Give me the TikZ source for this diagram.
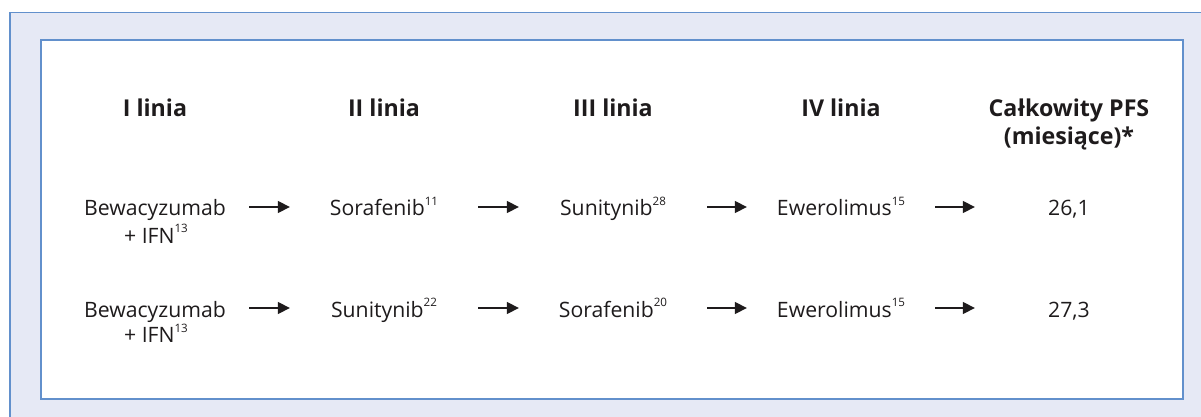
\documentclass[tikz,border=0pt]{standalone}
\usepackage{fontspec}
\setmainfont{Open Sans}
\usetikzlibrary{arrows.meta}
\definecolor{band}{RGB}{230,233,245}
\definecolor{frame}{RGB}{98,144,204}
\definecolor{ink}{RGB}{30,27,28}
\newcommand\refsup[1]{\raisebox{0.95ex}{\fontsize{5.8}{6}\selectfont #1}}
\begin{document}
\begin{tikzpicture}[x=0.5pt,y=-0.5pt,
  cell/.style={anchor=base, inner sep=0pt, text=ink, font=\fontsize{10.6}{12}\selectfont,
    minimum width=73.75pt, text height=10pt, text depth=1pt},
  note/.style={anchor=base, inner sep=0pt, text=ink, font=\fontsize{10.6}{12}\selectfont},
  head/.style={anchor=base, inner sep=0pt, text=ink, font=\fontsize{11.6}{12}\selectfont\bfseries},
  flow/.style={-{Triangle[length=6pt,width=6pt]}, line width=0.65pt, draw=ink,
    shorten <=10pt, shorten >=10pt}]
\useasboundingbox (0,0) rectangle (1201,417);
\clip (0,0) rectangle (1201,417);
\fill[white] (0,0) rectangle (1201,417);
\filldraw[fill=band, draw=frame, line width=0.7pt] (10,12.5) rectangle (1240,450);
\filldraw[fill=white, draw=frame, line width=1pt] (41,40) rectangle (1183,399);

% headers
\node[head] (h1) at (155,117) {I linia};
\node[head] (h2) at (384,117) {II linia};
\node[head] (h3) at (613,117) {III linia};
\node[head] (h4) at (841,117) {IV linia};
\node[head] (h5) at (1069,117) {Całkowity PFS};
\node[head] (h5b) at (1069,145) {(miesiące)*};

% row 1
\node[cell] (a1) at (155,216) {Bewacyzumab};
\node[note] (a1b) at (156,243) {+ IFN\refsup{13}};
\node[cell] (a2) at (384,216) {Sorafenib\refsup{11}};
\node[cell] (a3) at (613,216) {Sunitynib\refsup{28}};
\node[cell] (a4) at (841,216) {Ewerolimus\refsup{15}};
\node[cell] (a5) at (1069,216) {26,1};

% row 2
\node[cell] (b1) at (155,317) {Bewacyzumab};
\node[note] (b1b) at (156,343) {+ IFN\refsup{13}};
\node[cell] (b2) at (384,317) {Sunitynib\refsup{22}};
\node[cell] (b3) at (613,317) {Sorafenib\refsup{20}};
\node[cell] (b4) at (841,317) {Ewerolimus\refsup{15}};
\node[cell] (b5) at (1069,317) {27,3};

\foreach \r in {a,b}{
  \draw[flow] (\r1) -- (\r2);
  \draw[flow] (\r2) -- (\r3);
  \draw[flow] (\r3) -- (\r4);
  \draw[flow] (\r4) -- (\r5);
}
\end{tikzpicture}
\end{document}
